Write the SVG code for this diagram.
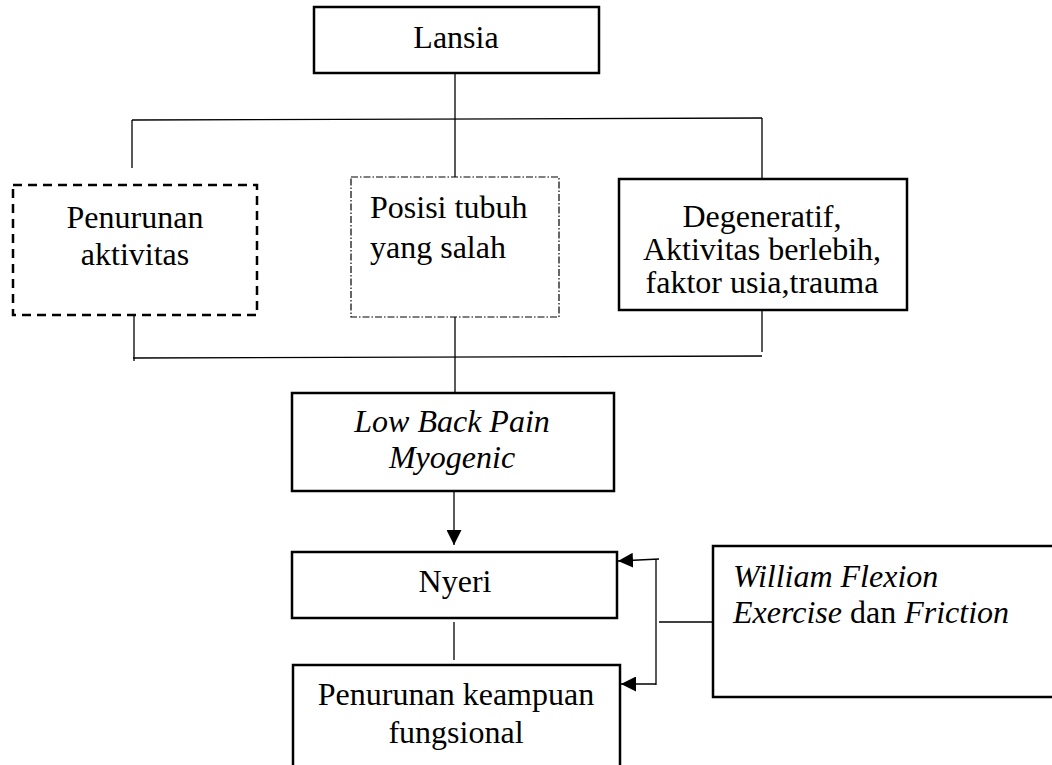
<svg xmlns="http://www.w3.org/2000/svg" width="1052" height="765" viewBox="0 0 1052 765">
<defs>
<style>
.box{fill:#fff;stroke:#000;stroke-width:2.5}
.dash{fill:#fff;stroke:#000;stroke-width:2.5;stroke-dasharray:9 6}
.dashdot{fill:#fff;stroke:#000;stroke-width:1.2;stroke-dasharray:7 2 1.5 2}
.ln{fill:none;stroke:#000;stroke-width:1.3}
text{font-family:"Liberation Serif","Times New Roman",serif;fill:#000;font-size:32px}
.c{text-anchor:middle}
.i{font-style:italic}
</style>
<marker id="arr" viewBox="0 0 10 10" refX="10" refY="5" markerWidth="15" markerHeight="15" markerUnits="userSpaceOnUse" orient="auto">
<path d="M0,0 L10,5 L0,10 Z" fill="#000"/>
</marker>
</defs>
<g id="connectors">
<line class="ln" x1="455" y1="73" x2="455" y2="178"/>
<line class="ln" x1="132" y1="120" x2="762" y2="118"/>
<line class="ln" x1="132" y1="120" x2="132" y2="168"/>
<line class="ln" x1="762" y1="118" x2="762" y2="178"/>
<line class="ln" x1="134" y1="315" x2="134" y2="361"/>
<line class="ln" x1="762" y1="310" x2="762" y2="352"/>
<line class="ln" x1="133" y1="358" x2="762" y2="356"/>
<line class="ln" x1="455" y1="317" x2="455" y2="393"/>
<line class="ln" x1="454" y1="491" x2="454" y2="545" marker-end="url(#arr)"/>
<line class="ln" x1="454" y1="622" x2="454" y2="660"/>
<line class="ln" x1="713" y1="622" x2="659" y2="622"/>
<line class="ln" x1="656" y1="559" x2="656" y2="685"/>
<line class="ln" x1="659" y1="559" x2="618" y2="561" marker-end="url(#arr)"/>
<line class="ln" x1="656" y1="684" x2="621" y2="684" marker-end="url(#arr)"/>
</g>
<g id="lansia">
<rect class="box" x="314" y="7" width="285" height="66"/>
<text class="c" x="456" y="48" font-size="31">Lansia</text>
</g>
<g id="penurunan-aktivitas">
<rect class="dash" x="13" y="185" width="244" height="130"/>
<text class="c" x="135" y="228">Penurunan</text>
<text class="c" x="135" y="265">aktivitas</text>
</g>
<g id="posisi-tubuh">
<rect class="dashdot" x="351" y="177" width="208" height="140"/>
<text x="370" y="218">Posisi tubuh</text>
<text x="370" y="258">yang salah</text>
</g>
<g id="degeneratif">
<rect class="box" x="619" y="179" width="288" height="131"/>
<text class="c" x="762" y="227" font-size="27">Degeneratif,</text>
<text class="c" x="762" y="260" font-size="27">Aktivitas berlebih,</text>
<text class="c" x="762" y="293" font-size="27">faktor usia,trauma</text>
</g>
<g id="low-back-pain">
<rect class="box" x="292" y="393" width="322" height="98"/>
<text class="c i" x="452" y="432" font-size="30">Low Back Pain</text>
<text class="c i" x="452" y="468" font-size="30">Myogenic</text>
</g>
<g id="nyeri">
<rect class="box" x="292" y="552" width="325" height="66"/>
<text class="c" x="455" y="592">Nyeri</text>
</g>
<g id="penurunan-keampuan">
<rect class="box" x="293" y="665" width="327" height="110"/>
<text class="c" x="456" y="705">Penurunan keampuan</text>
<text class="c" x="456" y="743">fungsional</text>
</g>
<g id="william">
<rect class="box" x="713" y="546" width="345" height="151"/>
<text class="i" x="733" y="587" font-size="31">William Flexion</text>
<text x="733" y="623" font-size="31"><tspan class="i">Exercise</tspan> dan <tspan class="i">Friction</tspan></text>
</g>
</svg>
